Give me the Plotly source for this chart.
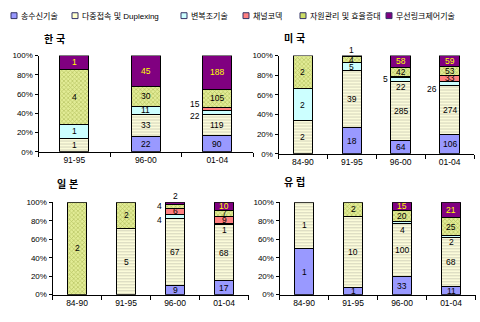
import plotly.graph_objects as go

# ---------------- data ----------------
series = ["송수신기술", "다중접속 및 Duplexing", "변복조기술", "채널코덱",
          "자원관리 및 효율증대", "무선링크제어기술"]

kr_cats = ["91-95", "96-00", "01-04"]
kr_txrx = [0, 22, 90]
kr_multi = [1, 33, 119]
kr_mod = [1, 11, 22]
kr_codec = [0, 0, 15]
kr_res = [4, 30, 105]
kr_link = [1, 45, 188]

us_cats = ["84-90", "91-95", "96-00", "01-04"]
us_txrx = [0, 18, 64, 106]
us_multi = [2, 39, 285, 274]
us_mod = [2, 5, 22, 26]
us_codec = [0, 0, 5, 33]
us_res = [2, 4, 42, 53]
us_link = [0, 1, 58, 59]

jp_cats = ["84-90", "91-95", "96-00", "01-04"]
jp_txrx = [0, 0, 9, 17]
jp_multi = [0, 5, 67, 68]
jp_mod = [0, 0, 4, 1]
jp_codec = [0, 0, 6, 9]
jp_res = [2, 2, 4, 7]
jp_link = [0, 0, 2, 10]

eu_cats = ["84-90", "91-95", "96-00", "01-04"]
eu_txrx = [1, 1, 33, 11]
eu_multi = [1, 10, 100, 68]
eu_mod = [0, 0, 4, 2]
eu_codec = [0, 0, 0, 0]
eu_res = [0, 2, 20, 25]
eu_link = [0, 0, 15, 21]

panel_titles = ["한 국", "미 국", "일 본", "유 럽"]
y_tickvals = [0, 20, 40, 60, 80, 100]
y_ticktext = ["0%", "20%", "40%", "60%", "80%", "100%"]

# ---------------- styles ----------------
W, H = 480, 322
FONT = "Liberation Sans, Noto Sans CJK KR, sans-serif"
BARGAP = 0.6

styles = [
    dict(color="#9999FF"),
    dict(color="#FFFFCC", pattern=dict(shape="-", fgcolor="#A8A898", bgcolor="#FFFFDD", size=3, solidity=0.4)),
    dict(color="#CCFFFF"),
    dict(color="#FF8080"),
    dict(color="#CCDD66", pattern=dict(shape="x", fgcolor="#8C9C30", bgcolor="#E2EC96", size=3, solidity=0.4)),
    dict(color="#800080"),
]
legend_colors = ["#9999FF", "#FFFFCC", "#CCFFFF", "#FF8080", "#CCDD66", "#800080"]
legend_px = [11, 72, 181, 243, 300, 386]   # left pixel of each legend entry

# panel layout in pixels: (x0, x1, ybottom(0%), ytop(100%))
panels_px = [
    (38.5, 253, 152, 53),
    (278.5, 474, 154, 53),
    (52.5, 248.5, 299, 204),
    (279.5, 475.5, 299, 204),
]
title_px = [(42, 36), (282, 35), (55, 185), (282, 183)]

# label placement tweaks: (panel, category, series) -> (mode, yshift)
label_tweaks = {
    (0, "01-04", 3): ("left", 5),
    (0, "01-04", 2): ("left", -4),
    (1, "91-95", 5): ("above", 0),
    (1, "96-00", 2): ("in", -8),
    (1, "96-00", 3): ("left", -2),
    (1, "01-04", 2): ("left", -5),
    (2, "96-00", 5): ("above", 0),
    (2, "96-00", 4): ("left", 0),
    (2, "96-00", 2): ("left", -4),
    (2, "01-04", 2): ("in", -6),
    (3, "96-00", 2): ("in", -8),
    (3, "01-04", 2): ("in", -6),
}

panels = [
    (kr_cats, [kr_txrx, kr_multi, kr_mod, kr_codec, kr_res, kr_link]),
    (us_cats, [us_txrx, us_multi, us_mod, us_codec, us_res, us_link]),
    (jp_cats, [jp_txrx, jp_multi, jp_mod, jp_codec, jp_res, jp_link]),
    (eu_cats, [eu_txrx, eu_multi, eu_mod, eu_codec, eu_res, eu_link]),
]

fig = go.Figure()
annotations = []
shapes = []

for p, (cats, vals) in enumerate(panels):
    n = p + 1
    xa = "x" if n == 1 else f"x{n}"
    ya = "y" if n == 1 else f"y{n}"
    totals = [sum(v[i] for v in vals) for i in range(len(cats))]
    pcts = [[v[i] / totals[i] * 100 for i in range(len(cats))] for v in vals]
    for s, pc in enumerate(pcts):
        fig.add_trace(go.Bar(
            x=cats, y=[q if q > 0 else None for q in pc], xaxis=xa, yaxis=ya,
            name=series[s], showlegend=False,
            marker=dict(line=dict(color="#000000", width=1), **styles[s]),
            hoverinfo="skip",
        ))
    x0, x1, yb, yt = panels_px[p]
    half = 0.5 * (1 - BARGAP) * (x1 - x0) / len(cats)
    # labels
    for i, c in enumerate(cats):
        cum = 0.0
        for s in range(len(vals)):
            v = vals[s][i]
            pc = pcts[s][i]
            if v == 0:
                continue
            mid = cum + pc / 2
            cum += pc
            mode, dy = label_tweaks.get((p, c, s), ("in", 0))
            color = "#FFFF00" if (s == 5 and mode == "in") else "#000000"
            a = dict(x=c, y=mid, xref=xa, yref=ya, text=str(v), showarrow=False,
                     font=dict(family=FONT, size=8.5, color=color), yshift=dy)
            if mode == "left":
                a.update(xanchor="right", xshift=-half - 1)
            elif mode == "above":
                a.update(y=100, yanchor="bottom", yshift=-1)
            annotations.append(a)
    # axes
    fig.layout[f"xaxis{'' if n == 1 else n}"] = dict(
        domain=[x0 / W, x1 / W], anchor=ya, type="category",
        showline=True, linecolor="#000000", linewidth=1,
        ticks="outside", tickson="boundaries", ticklen=4, tickcolor="#000000",
        tickfont=dict(family=FONT, size=8.5, color="#000000"),
        showgrid=False, fixedrange=True,
    )
    fig.layout[f"yaxis{'' if n == 1 else n}"] = dict(
        domain=[(H - yb) / H, (H - yt) / H], anchor=xa, range=[0, 100],
        tickmode="array", tickvals=y_tickvals, ticktext=y_ticktext,
        showline=True, linecolor="#000000", linewidth=1,
        ticks="outside", ticklen=3, tickcolor="#000000",
        tickfont=dict(family=FONT, size=8, color="#000000"),
        showgrid=False, zeroline=False, fixedrange=True,
    )
    tx, ty = title_px[p]
    annotations.append(dict(x=tx / W, y=1 - ty / H, xref="paper", yref="paper",
                            xanchor="left", yanchor="middle", showarrow=False,
                            text=f"<b>{panel_titles[p]}</b>",
                            font=dict(family=FONT, size=10, color="#000000")))

# manual legend
for s, name in enumerate(series):
    lx = legend_px[s]
    shapes.append(dict(type="rect", xref="paper", yref="paper",
                       x0=lx / W, x1=(lx + 6) / W, y0=1 - 15 / H, y1=1 - 9 / H,
                       fillcolor=legend_colors[s], line=dict(color="#333366", width=1)))
    annotations.append(dict(x=(lx + 8) / W, y=1 - 12 / H, xref="paper", yref="paper",
                            xanchor="left", yanchor="middle", showarrow=False,
                            text=name, font=dict(family=FONT, size=8, color="#000000")))

fig.update_layout(
    width=W, height=H, margin=dict(l=0, r=0, t=0, b=0),
    barmode="stack", bargap=BARGAP,
    paper_bgcolor="#FFFFFF", plot_bgcolor="#FFFFFF",
    annotations=annotations, shapes=shapes,
    font=dict(family=FONT, size=9, color="#000000"),
)

fig.write_html("out.html")
